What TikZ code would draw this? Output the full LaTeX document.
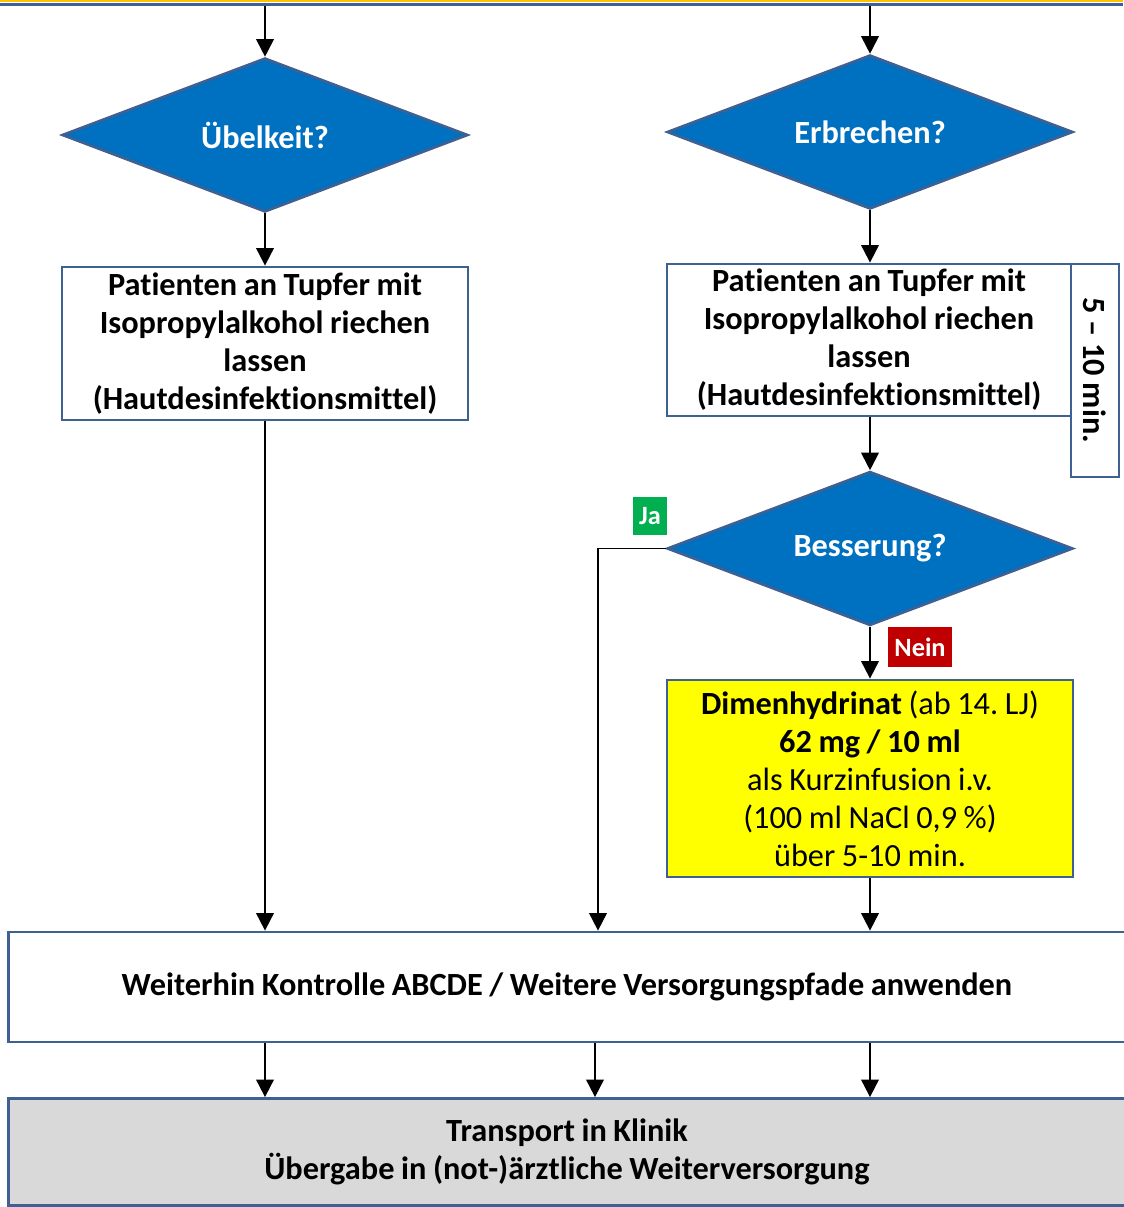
\documentclass[tikz,border=0pt]{standalone}
\usepackage{fontspec}
\setmainfont{Carlito}[Ligatures=NoCommon, WordSpace=0.9]
\frenchspacing
\usetikzlibrary{arrows.meta,shapes.geometric,positioning}
\definecolor{rahmen}{RGB}{62,96,146}
\definecolor{fragblau}{RGB}{0,112,192}
\definecolor{jagruen}{RGB}{0,176,80}
\definecolor{neinrot}{RGB}{192,0,0}
\definecolor{gelb}{RGB}{255,255,0}
\definecolor{grau}{RGB}{217,217,217}
\definecolor{gold}{RGB}{255,192,0}
\newcommand{\groesse}{\fontsize{18.4}{21.6}\selectfont}

\begin{document}
\begin{tikzpicture}[x=0.02cm,y=-0.02cm,
	frage/.style={diamond, aspect=2.64, draw=rahmen, line width=1.5pt, fill=fragblau, text=white,
		font=\groesse\bfseries, minimum width=8.12cm, minimum height=3.08cm, inner sep=0pt},
	kasten/.style={draw=rahmen, line width=1.6pt, fill=white, align=center, font=\groesse\bfseries, inner sep=0pt},
	marke/.style={text=white, font=\fontsize{15}{18}\selectfont\bfseries, inner sep=0pt},
	pfeil/.style={-{Triangle[width=10pt,length=10pt]}, line width=1.1pt}]
	\useasboundingbox (0,0) rectangle (1123,1207);

	% obere Kante
	\draw[gold, line width=1.3pt] (0,1) -- (1123,1);
	\draw[rahmen, line width=2pt] (0,4.5) -- (1123,4.5);
	\coordinate (oben1) at (265,6);
	\coordinate (oben2) at (870,6);

	% Fragen
	\node[frage] (f1) at (265,135) {Übelkeit?};
	\node[frage] (f2) at (870,132) {Erbrechen?};

	\node[kasten, minimum width=8.12cm, minimum height=3.06cm] (k1) at (265,343.5)
		{Patienten an Tupfer mit\\ Isopropylalkohol riechen\\ lassen\\ (Hautdesinfektionsmittel)};
	\node[kasten, minimum width=8.08cm, minimum height=3.04cm] (k2) at (869,340)
		{Patienten an Tupfer mit\\ Isopropylalkohol riechen\\ lassen\\ (Hautdesinfektionsmittel)};
	\node[kasten, rotate=-90, minimum width=4.26cm, minimum height=0.96cm] (zeit) at (1095,370.5) {5 -- 10 min.};

	\node[frage] (f3) at (870,548.5) {Besserung?};

	\node[kasten, fill=gelb, font=\groesse, minimum width=8.12cm, minimum height=3.94cm] (dimen) at (870,778.5)
		{\textbf{Dimenhydrinat} (ab 14. LJ)\\ \textbf{62 mg / 10 ml}\\ als Kurzinfusion i.v.\\ (100 ml NaCl 0,9 \%)\\ über 5-10 min.};

	\node[marke, fill=jagruen, minimum width=0.68cm, minimum height=0.76cm] (ja) at (650,516) {Ja};
	\node[marke, fill=neinrot, minimum width=1.28cm, minimum height=0.8cm] (nein) at (920,647) {Nein};

	% untere Kaesten
	\node[kasten, minimum width=22.36cm, minimum height=2.2cm] (weiter) at (567,987)
		{Weiterhin Kontrolle ABCDE / Weitere Versorgungspfade anwenden};
	\node[kasten, fill=grau, minimum width=22.36cm, minimum height=2.14cm] (transport) at (567,1152)
		{Transport in Klinik\\ Übergabe in (not-)ärztliche Weiterversorgung};

	% Pfeile
	\draw[pfeil] (oben1) -- (f1);
	\draw[pfeil] (oben2) -- (f2);
	\draw[pfeil] (f1) -- (k1);
	\draw[pfeil] (f2) -- (k2.north -| f2);
	\draw[pfeil] (k2.south -| f3) -- (f3);
	\draw[pfeil] (f3) -- (dimen);
	\draw[pfeil] (k1) -- (k1 |- weiter.north);
	\draw[pfeil] (dimen) -- (dimen |- weiter.north);
	\coordinate (knick) at (598,548.5);
	\draw[pfeil] (f3.west) -- (knick) -- (knick |- weiter.north);
	\foreach \x in {265,595,870}{
		\coordinate (s) at (\x,0);
		\draw[pfeil] (weiter.south -| s) -- (transport.north -| s);
	}
\end{tikzpicture}
\end{document}
